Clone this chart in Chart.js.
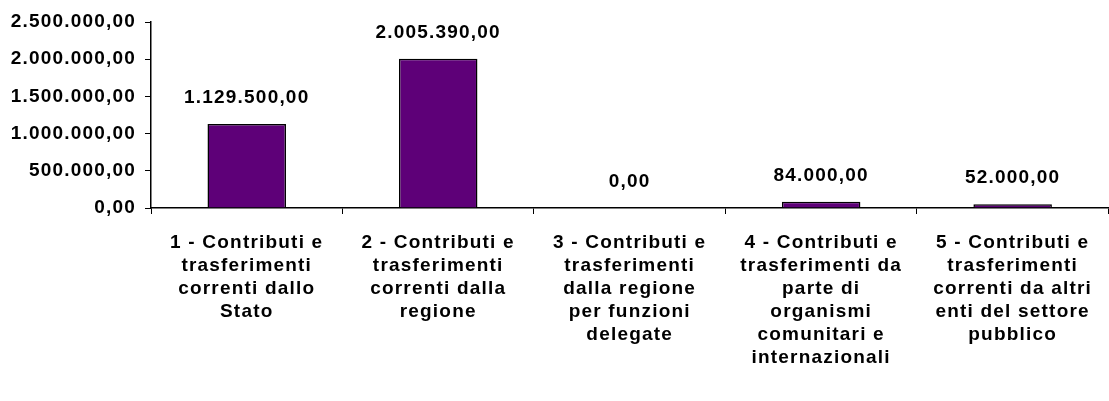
<!DOCTYPE html>
<html>
<head>
<meta charset="utf-8">
<script src="https://cdn.jsdelivr.net/npm/chart.js@4/dist/chart.umd.min.js"></script>
<style>
  html, body { margin: 0; padding: 0; background: #fff; }
  #wrap { width: 1109px; height: 401px; }
</style>
</head>
<body>
<div id="wrap"><canvas id="chart" width="1109" height="401"></canvas></div>
<script>
const categories = [
    ['1 - Contributi e', 'trasferimenti', 'correnti dallo', 'Stato'],
    ['2 - Contributi e', 'trasferimenti', 'correnti dalla', 'regione'],
    ['3 - Contributi e', 'trasferimenti', 'dalla regione', 'per funzioni', 'delegate'],
    ['4 - Contributi e', 'trasferimenti da', 'parte di', 'organismi', 'comunitari e', 'internazionali'],
    ['5 - Contributi e', 'trasferimenti', 'correnti da altri', 'enti del settore', 'pubblico']
];
const values = [1129500, 2005390, 0, 84000, 52000];
const yTicks = [0, 500000, 1000000, 1500000, 2000000, 2500000];

function formatIt(v) {
    const parts = Math.round(v).toString().replace(/\B(?=(\d{3})+(?!\d))/g, '.');
    return parts + ',00';
}

const fontFamily = '"Liberation Sans", Arial, sans-serif';
const spacing = '1.2px';

// spacing between letters, like the original Excel rendering
const spacingPlugin = {
    id: 'spacing',
    beforeUpdate(chart) { chart.ctx.letterSpacing = spacing; },
    beforeDraw(chart) { chart.ctx.letterSpacing = spacing; }
};

const valueLabels = {
    id: 'valueLabels',
    afterDatasetsDraw(chart) {
        const ctx = chart.ctx;
        const meta = chart.getDatasetMeta(0);
        ctx.save();
        ctx.letterSpacing = spacing;
        ctx.font = 'bold 19px ' + fontFamily;
        ctx.fillStyle = '#000';
        ctx.textAlign = 'center';
        ctx.textBaseline = 'middle';
        meta.data.forEach((bar, i) => {
            ctx.fillText(formatIt(values[i]), bar.x, bar.y - 26);
        });
        ctx.restore();
    }
};

new Chart(document.getElementById('chart').getContext('2d'), {
    type: 'bar',
    data: {
        labels: categories,
        datasets: [{
            data: values,
            backgroundColor: '#5E0078',
            borderColor: '#000',
            borderWidth: 1.5,
            barPercentage: 1,
            categoryPercentage: 0.41
        }]
    },
    options: {
        responsive: false,
        animation: false,
        layout: { padding: { top: 22, right: 0, left: 0, bottom: 0 } },
        plugins: { legend: { display: false }, tooltip: { enabled: false } },
        scales: {
            x: {
                border: { color: '#000', width: 1.5 },
                grid: { drawOnChartArea: false, color: '#000', tickLength: 6, offset: true },
                ticks: {
                    color: '#000',
                    padding: 17,
                    maxRotation: 0,
                    autoSkip: false,
                    font: { family: fontFamily, size: 19, weight: 'bold', lineHeight: 1.21 }
                },
                afterFit(scale) { scale.height = 401 - 208; }
            },
            y: {
                min: 0,
                max: 2500000,
                border: { color: '#000', width: 1.5 },
                grid: { drawOnChartArea: false, color: '#000', tickLength: 6 },
                afterBuildTicks(scale) { scale.ticks = yTicks.map(v => ({ value: v })); },
                ticks: {
                    color: '#000',
                    padding: 9,
                    callback: v => formatIt(v),
                    font: { family: fontFamily, size: 19, weight: 'bold' }
                },
                afterFit(scale) { scale.width = 151; }
            }
        }
    },
    plugins: [spacingPlugin, valueLabels]
});
</script>
</body>
</html>
